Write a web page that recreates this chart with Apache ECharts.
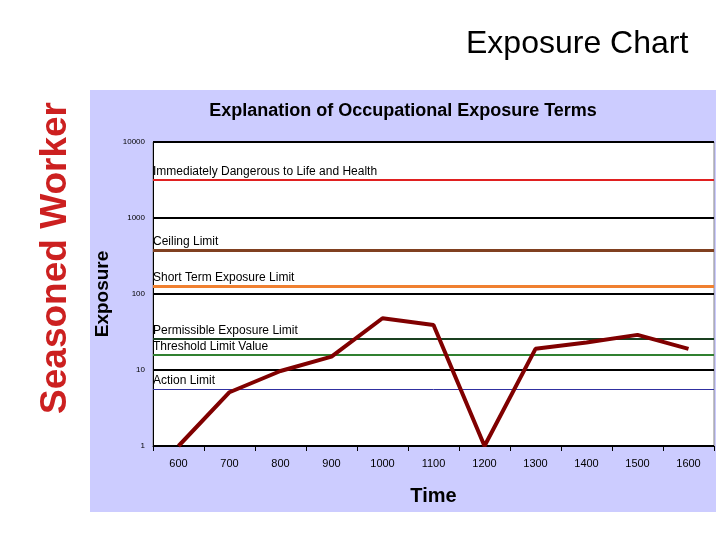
<!DOCTYPE html>
<html><head><meta charset="utf-8">
<script src="https://cdn.jsdelivr.net/npm/echarts@6/dist/echarts.min.js"></script>
<style>html,body{margin:0;background:#fff}#c{width:720px;height:540px}</style></head>
<body><div id="c"></div>
<script>
const categories = ['600','700','800','900','1000','1100','1200','1300','1400','1500','1600'];
const exposure = [1, 5.1, 9.7, 15, 48, 39, 1, 19, 23, 29, 19];
const limitNames = ['Immediately Dangerous to Life and Health','Ceiling Limit','Short Term Exposure Limit','Permissible Exposure Limit','Threshold Limit Value','Action Limit'];
const limitValues = [3160, 380, 127, 25.6, 16, 5.6];
const limitColors = ['#e02020','#804020','#f08030','#1a4020','#308030','#3030a0'];
const limitWidths = [2, 3, 3, 2, 2, 1];

const chart = echarts.init(document.getElementById('c'));
chart.setOption({
  backgroundColor: '#fff',
  graphic: [
    {type:'rect', z:-10, shape:{x:90,y:90,width:626,height:422}, style:{fill:'#ccccff'}},
    {type:'text', left:466, top:28, style:{text:'Exposure Chart', font:'32px Arial, Liberation Sans', fill:'#000'}},
    {type:'text', x:56, y:258, rotation:Math.PI/2, style:{text:'Seasoned Worker', font:'bold 37px Arial, Liberation Sans', fill:'#cc2020', align:'center', verticalAlign:'middle'}}
  ],
  title: {text:'Explanation of Occupational Exposure Terms', left:398, top:97, textAlign:'center',
    textStyle:{fontSize:18, fontWeight:'bold', color:'#000', fontFamily:'Arial, Liberation Sans'}},
  grid: {left:153, right:6, top:142, bottom:94, show:true, backgroundColor:'#fff', borderColor:'#888', borderWidth:1},
  xAxis: {type:'category', data:categories, boundaryGap:true,
    name:'Time', nameLocation:'middle', nameGap:40,
    nameTextStyle:{fontSize:20, fontWeight:'bold', color:'#000', fontFamily:'Arial, Liberation Sans'},
    axisLine:{lineStyle:{color:'#000'}}, axisTick:{show:true, lineStyle:{color:'#000'}},
    axisLabel:{fontSize:11, color:'#000', margin:12}},
  yAxis: {type:'log', logBase:10, min:1, max:10000,
    name:'Exposure', nameLocation:'middle', nameGap:30, nameRotate:90,
    nameTextStyle:{fontSize:19, fontWeight:'bold', color:'#000', fontFamily:'Arial, Liberation Sans'},
    axisLine:{show:true, lineStyle:{color:'#000'}}, axisTick:{show:false},
    axisLabel:{fontSize:8, color:'#000', formatter:v=>String(Math.round(v))},
    splitLine:{lineStyle:{color:'#000', width:2}}},
  series: [{
    type:'line', data:exposure, symbol:'none',
    lineStyle:{color:'#800000', width:4}, z:5,
    markLine:{symbol:'none', silent:true,
      data: limitValues.map((v,i)=>({yAxis:v, name:limitNames[i],
        lineStyle:{color:limitColors[i], width:limitWidths[i], type:'solid'},
        label:{show:true, formatter:limitNames[i], position:'insideStartTop', distance:[0,2],
          fontSize:12, color:'#000', fontFamily:'Arial, Liberation Sans'}}))}
  }]
});
</script></body></html>
